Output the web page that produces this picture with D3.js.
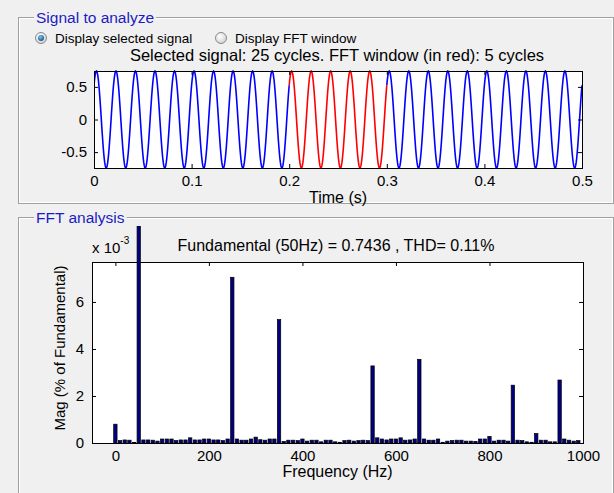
<!DOCTYPE html>
<html><head><meta charset="utf-8">
<script src="https://cdn.jsdelivr.net/npm/d3@7"></script>
<style>
body{margin:0;background:#f0f0f0}
svg{display:block}
text{font-family:"Liberation Sans",Arial,sans-serif;fill:#000}
</style>
</head><body>
<svg id="c" width="614" height="493"></svg>
<script>
// ---- data ----
// one sampled cycle of the 50 Hz signal (40 samples / cycle)
const cycleSamples = [0.5258,0.6016,0.6625,0.7072,0.7345,0.7436,0.7345,0.7072,0.6625,0.6016,
  0.5258,0.4371,0.3376,0.2298,0.1163,0,-0.1163,-0.2298,-0.3376,-0.4371,
  -0.5258,-0.6016,-0.6625,-0.7072,-0.7345,-0.7436,-0.7345,-0.7072,-0.6625,-0.6016,
  -0.5258,-0.4371,-0.3376,-0.2298,-0.1163,0,0.1163,0.2298,0.3376,0.4371];
const signalFreq = 50;          // Hz
const totalCycles = 25;
const fftStartCycle = 10;
const fftCycles = 5;
const timeTicks = [0,0.1,0.2,0.3,0.4,0.5];
const signalTicks = [-0.5,0,0.5];

// FFT magnitudes (x 10^-3 % of fundamental), bins every 10 Hz from 0 to 1000 Hz
const binWidth = 10;
const magnitudes = [
  0.80,0.10,0.13,0.12,0.03,100000,0.13,0.13,0.12,0.08,   // 0-90
  0.17,0.17,0.17,0.10,0.13,0.13,0.22,0.13,0.13,0.17,     // 100-190
  0.17,0.13,0.13,0.10,0.17,7.05,0.17,0.12,0.12,0.17,     // 200-290
  0.25,0.14,0.12,0.17,0.17,5.25,0.07,0.12,0.12,0.10,     // 300-390
  0.17,0.08,0.12,0.12,0.05,0.12,0.12,0.05,0.03,0.10,     // 400-490
  0.12,0.08,0.10,0.12,0.10,3.28,0.22,0.17,0.13,0.17,     // 500-590
  0.17,0.22,0.12,0.13,0.17,3.56,0.17,0.12,0.12,0.17,     // 600-690
  0.03,0.08,0.10,0.12,0.12,0.08,0.08,0.07,0.17,0.17,     // 700-790
  0.28,0.08,0.12,0.12,0.08,2.46,0.12,0.10,0.05,0.03,     // 800-890
  0.40,0.12,0.12,0.05,0.05,2.68,0.17,0.12,0.08,0.10,     // 900-990
  0.00                                                   // 1000
];
const freqTicks = [0,200,400,600,800,1000];
const magTicks = [0,2,4,6];
const freqDomain = [-50,1000];
const magDomain = [0,7.7];

const fundamentalText = "Fundamental (50Hz) = 0.7436 , THD= 0.11%";

// ---- drawing ----
const svg = d3.select("#c");
const font = '"Liberation Sans",Arial,sans-serif';

function groupBox(x,y,w,h,label,lx){
  const g = svg.append("g");
  g.append("rect").attr("x",x+0.5).attr("y",y+0.5).attr("width",w).attr("height",h)
    .attr("fill","none").attr("stroke","#a0a0a0");
  g.append("rect").attr("x",x+1.5).attr("y",y+1.5).attr("width",w-2).attr("height",h-2)
    .attr("fill","none").attr("stroke","#ffffff");
  const bg = g.append("rect").attr("fill","#f0f0f0");
  const t = g.append("text").attr("x",lx).attr("y",y+6).attr("font-size","15.5px")
    .style("fill","#1c1cc4").text(label);
  const bb = t.node().getBBox();
  bg.attr("x",bb.x-2).attr("y",y-8).attr("width",bb.width+4).attr("height",16);
}
groupBox(18,17,595,186,"Signal to analyze",36);
groupBox(18,217,595,300,"FFT analysis",36);

// radio buttons
const defs = svg.append("defs");
const rg = defs.append("radialGradient").attr("id","rb").attr("cx","40%").attr("cy","35%").attr("r","70%");
rg.append("stop").attr("offset","0%").attr("stop-color","#ffffff");
rg.append("stop").attr("offset","100%").attr("stop-color","#cfcfcf");
const dg = defs.append("radialGradient").attr("id","rd").attr("cx","40%").attr("cy","35%").attr("r","70%");
dg.append("stop").attr("offset","0%").attr("stop-color","#7fc4f0");
dg.append("stop").attr("offset","100%").attr("stop-color","#0b4f91");
[[41,"Display selected signal",true],[221,"Display FFT window",false]].forEach(([cx,t,sel])=>{
  svg.append("circle").attr("cx",cx).attr("cy",38).attr("r",5.5).attr("fill","url(#rb)").attr("stroke","#8a8a8a");
  if(sel) svg.append("circle").attr("cx",cx).attr("cy",38).attr("r",3).attr("fill","url(#rd)");
  svg.append("text").attr("x",cx+14).attr("y",43).attr("font-size","13.5px").text(t);
});
svg.append("text").attr("x",337).attr("y",61).attr("text-anchor","middle").attr("font-size","16.5px")
  .text(`Selected signal: ${totalCycles} cycles. FFT window (in red): ${fftCycles} cycles`);

// ---- top axes (signal) ----
const T = {l:94,r:582,t:71,b:168};
const perCycle = cycleSamples.length;
const signal = [];
for(let c=0;c<totalCycles;c++) cycleSamples.forEach((v,i)=>signal.push({t:(c*perCycle+i)/(perCycle*signalFreq),v}));
signal.push({t:totalCycles/signalFreq, v:cycleSamples[0]});
const xs = d3.scaleLinear().domain([0,totalCycles/signalFreq]).range([T.l,T.r]);
const ys = d3.scaleLinear().domain(d3.extent(cycleSamples)).range([T.b,T.t]);

svg.append("rect").attr("x",T.l).attr("y",T.t).attr("width",T.r-T.l).attr("height",T.b-T.t).attr("fill","#fff");
defs.append("clipPath").attr("id","clipT").append("rect").attr("x",T.l).attr("y",T.t-1).attr("width",T.r-T.l).attr("height",T.b-T.t+2);
const line = d3.line().x(d=>xs(d.t)).y(d=>ys(d.v));
const t0 = fftStartCycle/signalFreq, t1 = (fftStartCycle+fftCycles)/signalFreq;
const eps = 1e-9;
const gl = svg.append("g").attr("clip-path","url(#clipT)");
gl.append("path").datum(signal.filter(d=>d.t<=t0+eps)).attr("d",line).attr("fill","none").attr("stroke","#0000ff").attr("stroke-width",1.6);
gl.append("path").datum(signal.filter(d=>d.t>=t1-eps)).attr("d",line).attr("fill","none").attr("stroke","#0000ff").attr("stroke-width",1.6);
gl.append("path").datum(signal.filter(d=>d.t>=t0-eps&&d.t<=t1+eps)).attr("d",line).attr("fill","none").attr("stroke","#ff0000").attr("stroke-width",1.6);

function styleAxis(g){
  g.select(".domain").remove();
  g.selectAll("line").attr("stroke","#000");
  g.selectAll("text").attr("font-family",font).attr("font-size","15px").attr("fill","#000");
}
svg.append("g").attr("transform",`translate(0,${T.b})`)
  .call(d3.axisBottom(xs).tickValues(timeTicks).tickFormat(d=>String(d)).tickSizeInner(-4).tickSizeOuter(0).tickPadding(7)).call(styleAxis);
svg.append("g").attr("transform",`translate(0,${T.t})`)
  .call(d3.axisTop(xs).tickValues(timeTicks).tickFormat("").tickSizeInner(-4).tickSizeOuter(0)).call(styleAxis);
svg.append("g").attr("transform",`translate(${T.l},0)`)
  .call(d3.axisLeft(ys).tickValues(signalTicks).tickFormat(d=>String(d)).tickSizeInner(-4).tickSizeOuter(0).tickPadding(7)).call(styleAxis);
svg.append("g").attr("transform",`translate(${T.r},0)`)
  .call(d3.axisRight(ys).tickValues(signalTicks).tickFormat("").tickSizeInner(-4).tickSizeOuter(0)).call(styleAxis);
svg.append("rect").attr("x",T.l+0.5).attr("y",T.t+0.5).attr("width",T.r-T.l).attr("height",T.b-T.t)
  .attr("fill","none").attr("stroke","#000");
svg.append("text").attr("x",(T.l+T.r)/2).attr("y",203).attr("text-anchor","middle").attr("font-size","16px").text("Time (s)");

// ---- bottom axes (FFT) ----
const B = {l:92,r:583,t:262,b:443};
const xf = d3.scaleLinear().domain(freqDomain).range([B.l,B.r]);
const yf = d3.scaleLinear().domain(magDomain).range([B.b,B.t]);
svg.append("rect").attr("x",B.l).attr("y",B.t).attr("width",B.r-B.l).attr("height",B.b-B.t).attr("fill","#fff");

svg.append("g").attr("transform",`translate(0,${B.b})`)
  .call(d3.axisBottom(xf).tickValues(freqTicks).tickFormat(d=>String(d)).tickSizeInner(-4).tickSizeOuter(0).tickPadding(7)).call(styleAxis);
svg.append("g").attr("transform",`translate(0,${B.t})`)
  .call(d3.axisTop(xf).tickValues(freqTicks).tickFormat("").tickSizeInner(-4).tickSizeOuter(0)).call(styleAxis);
svg.append("g").attr("transform",`translate(${B.l},0)`)
  .call(d3.axisLeft(yf).tickValues(magTicks).tickFormat(d=>String(d)).tickSizeInner(-4).tickSizeOuter(0).tickPadding(8)).call(styleAxis);
svg.append("g").attr("transform",`translate(${B.r},0)`)
  .call(d3.axisRight(yf).tickValues(magTicks).tickFormat("").tickSizeInner(-4).tickSizeOuter(0)).call(styleAxis);
svg.append("rect").attr("x",B.l+0.5).attr("y",B.t+0.5).attr("width",B.r-B.l).attr("height",B.b-B.t)
  .attr("fill","none").attr("stroke","#000");

defs.append("clipPath").attr("id","clipB").append("rect").attr("x",B.l).attr("y",226).attr("width",B.r-B.l).attr("height",B.b-226);
const bw = (xf(binWidth)-xf(0))*0.72;
svg.append("g").attr("clip-path","url(#clipB)").selectAll("rect").data(magnitudes).join("rect")
  .attr("x",(d,i)=>xf(i*binWidth)-bw/2)
  .attr("y",d=>yf(d))
  .attr("width",bw)
  .attr("height",d=>yf(0)-yf(d))
  .attr("fill","#000080").attr("stroke","#000").attr("stroke-width",0.7);

svg.append("text").attr("x",336).attr("y",251).attr("text-anchor","middle").attr("font-size","16px").text(fundamentalText);
const ex = svg.append("text").attr("x",92).attr("y",253).attr("font-size","15px");
ex.append("tspan").text("x 10");
ex.append("tspan").attr("dy",-9).attr("font-size","10px").text("-3");
svg.append("text").attr("transform","translate(65,348) rotate(-90)").attr("text-anchor","middle").attr("font-size","15px").text("Mag (% of Fundamental)");
svg.append("text").attr("x",(B.l+B.r)/2).attr("y",477).attr("text-anchor","middle").attr("font-size","16px").text("Frequency (Hz)");
</script>
</body></html>
